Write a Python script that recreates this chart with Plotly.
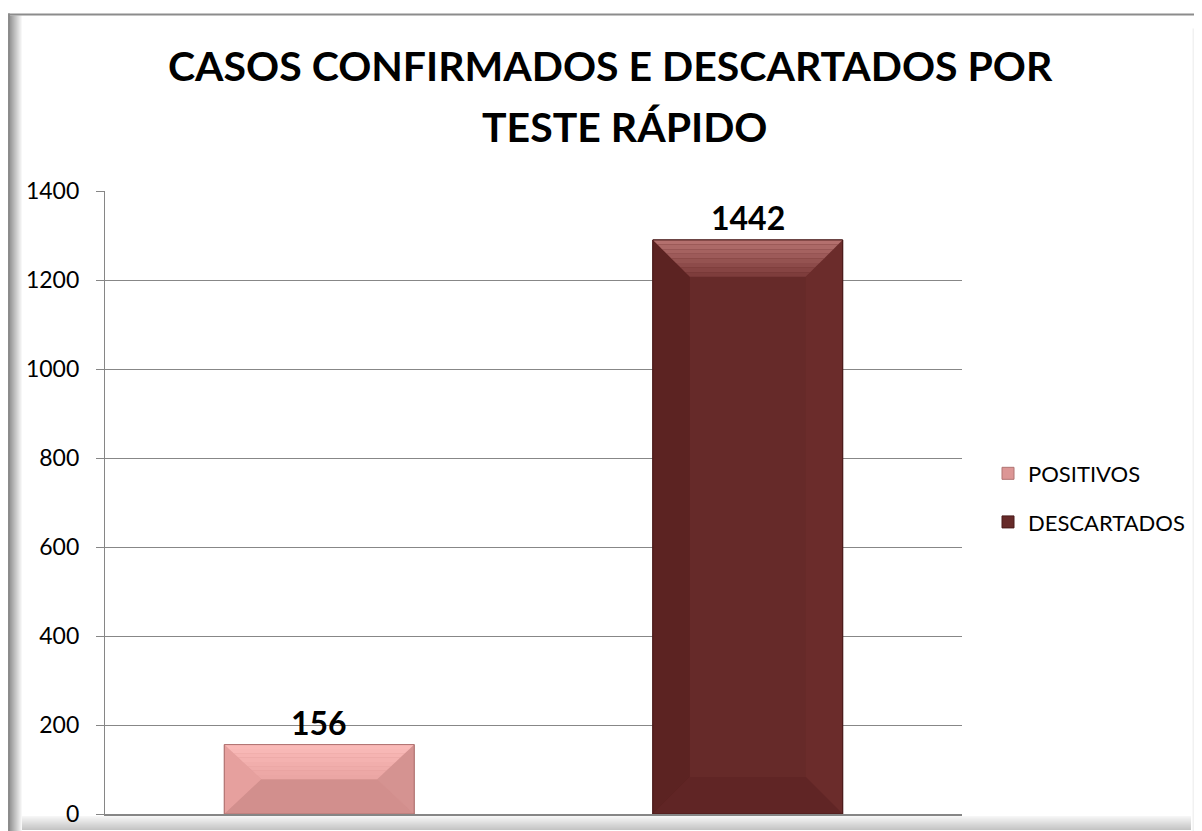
import plotly.graph_objects as go

# ---- data ----
categories = ["POSITIVOS", "DESCARTADOS"]
bar_values = [156, 1290]          # bar heights as drawn
label_texts = ["156", "1442"]     # data labels as printed
y_ticks = [0, 200, 400, 600, 800, 1000, 1200, 1400]
title_lines = ["CASOS CONFIRMADOS E DESCARTADOS POR", "TESTE RÁPIDO"]

face_colors = ["#dc9695", "#662a29"]
top_hi = ["#fbbcba", "#b87472"]
top_lo = ["#eaa4a2", "#7a3938"]
left_cols = ["#e6a09e", "#5c2322"]
right_cols = ["#d59391", "#6b2c2b"]
bottom_cols = ["#d28f8d", "#602525"]
edge_cols = ["#b07472", "#4a1a1a"]

OFF = 8  # page body margin: figure pixel p shows at p + 8
W, H = 1202, 831
# plot area in reference (screen) pixels
SL, SR, ST, SB = 105, 962, 191, 816
L, R, T, B = SL - OFF, SR - OFF, ST - OFF, SB - OFF
FONT = "Lato"
BAR_W = 0.443

fig = go.Figure()
for i, (c, v) in enumerate(zip(categories, bar_values)):
    fig.add_trace(go.Bar(
        x=[i], y=[v], name=c, width=BAR_W,
        marker=dict(color=face_colors[i], line=dict(color=edge_cols[i], width=1)),
        legendgroup=c, hoverinfo="name+y",
    ))


def hexmix(a, b, t):
    a = [int(a[k:k + 2], 16) for k in (1, 3, 5)]
    b = [int(b[k:k + 2], 16) for k in (1, 3, 5)]
    return "#" + "".join(f"{round(a[j] + (b[j] - a[j]) * t):02x}" for j in range(3))


shapes = []
# bevel on bars (derived from data coordinates)
px_per_x = (R - L) / 2.0
px_per_y = (B - T) / 1400.0
bev = 37
for i, v in enumerate(bar_values):
    x0, x1 = i - BAR_W / 2, i + BAR_W / 2
    dx = bev / px_per_x
    dy = min(bev / px_per_y, v / 2)
    xi0, xi1 = x0 + dx, x1 - dx
    yt, yb = v - dy, dy

    def poly(pts, col):
        d = "M " + " L ".join(f"{a},{b}" for a, b in pts) + " Z"
        shapes.append(dict(type="path", xref="x", yref="y", path=d,
                           fillcolor=col, line=dict(width=0), layer="above"))

    poly([(x0, 0), (x0, v), (xi0, yt), (xi0, yb)], left_cols[i])
    poly([(x1, 0), (x1, v), (xi1, yt), (xi1, yb)], right_cols[i])
    poly([(x0, 0), (x1, 0), (xi1, yb), (xi0, yb)], bottom_cols[i])
    n = 8
    for k in range(n):
        t0, t1 = k / n, (k + 1) / n
        ya, yb2 = v - dy * t0, v - dy * t1
        xa0, xa1 = x0 + dx * t0, x1 - dx * t0
        xb0, xb1 = x0 + dx * t1, x1 - dx * t1
        poly([(xa0, ya), (xa1, ya), (xb1, yb2), (xb0, yb2)],
             hexmix(top_hi[i], top_lo[i], (k + 0.5) / n))
    shapes.append(dict(type="rect", xref="x", yref="y", x0=x0, x1=x1, y0=0, y1=v,
                       line=dict(color=edge_cols[i], width=1), layer="above"))


# frame (decoration, given in screen pixels)
def pxx(xs):
    return (xs - OFF - L) / (R - L)


def pxy(ys):
    return (B - (ys - OFF)) / (B - T)


def rect(xa, ya, xb, yb, col):
    shapes.append(dict(type="rect", xref="paper", yref="paper",
                       x0=pxx(xa), x1=pxx(xb), y0=pxy(yb), y1=pxy(ya),
                       fillcolor=col, line=dict(width=0), layer="below"))


# left bevel
for k in range(13):
    rect(10 + k, 15, 11 + k, H + 10, hexmix("#9a9a9a", "#ffffff", k / 12))
# right bevel
for k in range(11):
    rect(1191 + k, 28, 1192 + k, H + 10, hexmix("#ffffff", "#b8b8b8", k / 10))
# bottom bevel
for k in range(14):
    rect(22, 818 + k, 1191, 819 + k, hexmix("#f6f6f6", "#c4c4c4", k / 13))
# border lines
rect(8, 13, 1210, 15, "#8c8c8c")
rect(8, 13, 10, H + 10, "#8c8c8c")

annotations = []
for i, (v, t) in enumerate(zip(bar_values, label_texts)):
    annotations.append(dict(x=i, y=v, xref="x", yref="y", text=f"<b>{t}</b>",
                            showarrow=False, yanchor="bottom", yshift=1,
                            font=dict(family=FONT, size=32, color="#000000")))

# title lines (screen pixel centres)
title_pos = [(610, 65), (624, 126)]
for line, (cx, cy) in zip(title_lines, title_pos):
    annotations.append(dict(x=pxx(cx), y=pxy(cy), xref="paper", yref="paper",
                            text=f"<b>{line}</b>", showarrow=False,
                            xanchor="center", yanchor="middle",
                            font=dict(family=FONT, size=41, color="#000000")))

fig.update_layout(
    width=W, height=H,
    margin=dict(l=L, r=W - R, t=T, b=H - B),
    paper_bgcolor="#ffffff", plot_bgcolor="#ffffff",
    barmode="overlay",
    xaxis=dict(range=[-0.5, 1.5], showticklabels=False, showgrid=False,
               zeroline=False, showline=True, linecolor="#868686", linewidth=2,
               ticks=""),
    yaxis=dict(range=[0, 1400], tickvals=y_ticks, showgrid=True,
               gridcolor="#878787", gridwidth=1.3, zeroline=False,
               showline=True, linecolor="#868686", linewidth=1.3,
               ticks="outside", ticklen=8, tickcolor="#868686",
               ticklabelstandoff=12,
               tickfont=dict(family=FONT, size=23, color="#000000")),
    legend=dict(x=pxx(988), y=pxy(499), xanchor="left", yanchor="middle",
                font=dict(family=FONT, size=22, color="#000000"),
                traceorder="grouped", tracegroupgap=17, itemwidth=30,
                bgcolor="rgba(0,0,0,0)"),
    shapes=shapes,
    annotations=annotations,
)

fig.write_html("out.html")
